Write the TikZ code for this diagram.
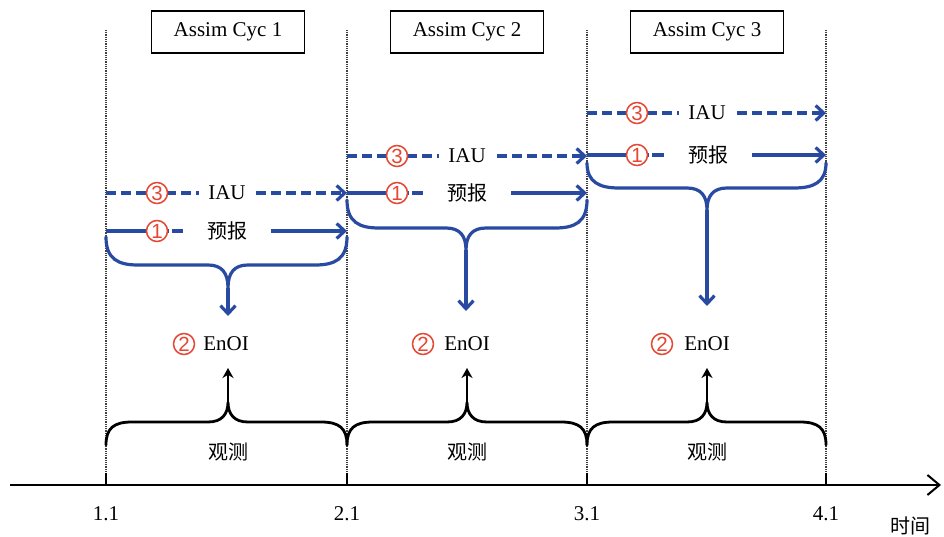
\documentclass[tikz,border=0pt]{standalone}
\usepackage{fontspec}
\setmainfont{Liberation Serif}
\newfontfamily\cjk{Noto Sans CJK SC}
\newfontfamily\digitfont{Liberation Sans}
\usetikzlibrary{arrows.meta}
\definecolor{lblue}{RGB}{40,74,160}
\definecolor{lred}{RGB}{226,72,52}
\newcommand\bracedown[6]{% x1,x2,cx,y0,yh,yt
  \draw[blueline,line cap=round] (#1,#4) .. controls (#1,#5-6) and (#1+12,#5) .. (#1+32,#5) -- (#3-20,#5)
    .. controls (#3-6,#5) and (#3,#5+8) .. (#3,#6)
    .. controls (#3,#5+8) and (#3+6,#5) .. (#3+20,#5) -- (#2-32,#5)
    .. controls (#2-12,#5) and (#2,#5-6) .. (#2,#4);}
\newcommand\braceup[6]{% x1,x2,cx,y0,yh,yt
  \draw[obsline,line cap=round] (#1,#4) .. controls (#1,#5+6) and (#1+8,#5) .. (#1+26,#5) -- (#3-20,#5)
    .. controls (#3-6,#5) and (#3,#5-8) .. (#3,#6)
    .. controls (#3,#5-8) and (#3+6,#5) .. (#3+20,#5) -- (#2-26,#5)
    .. controls (#2-8,#5) and (#2,#5+6) .. (#2,#4);}
\begin{document}
\begin{tikzpicture}[x=1pt,y=-1pt,
  every node/.style={font=\fontsize{21}{24}\selectfont},
  cjktext/.style={font=\cjk\fontsize{20}{24}\selectfont},
  cyclebox/.style={draw,line width=1.8pt,minimum width=153pt,minimum height=42pt,inner sep=0pt,fill=white},
  vline/.style={line width=1.5pt,black!75,dash pattern=on 1pt off 0.8pt},
  blueline/.style={lblue,line width=3.2pt},
  bluearrow/.style={blueline,-{Straight Barb[length=8pt,width=15pt]}},
  iauarrow/.style={bluearrow,dash pattern=on 10pt off 5pt},
  obsline/.style={black,line width=2.8pt},
  obsarrow/.style={obsline,-{Stealth[length=10pt,width=11pt]}},
  numcirc/.style={circle,draw=lred,line width=1.5pt,text=lred,inner sep=0pt,minimum size=21pt,fill=white,font=\digitfont\fontsize{20.5}{20.5}\selectfont},
  gaptext/.style={fill=white,inner ysep=2pt},
]
\useasboundingbox (0,0) rectangle (944,537);
% vertical time lines and ticks
\foreach \x/\n in {106/1,347/2,587/3,826/4}{
  \coordinate (vt\n) at (\x,30);
  \coordinate (vb\n) at (\x,473);
  \coordinate (va\n) at (\x,485);
  \draw[vline] (vt\n) -- (vb\n);
  \draw[line width=2.2pt] (vb\n) -- (va\n);
  \node (lab\n) at (\x,514) {\n.1};
}
% time axis
\coordinate (ax0) at (10,485);
\coordinate (ax1) at (941,485);
\draw[line width=2pt,-{Straight Barb[length=12pt,width=20pt]}] (ax0) -- (ax1);
\node[cjktext] (time) at (910,526) {时间};
% cycle boxes
\node[cyclebox] (box1) at (228,32) {Assim Cyc 1};
\node[cyclebox] (box2) at (467,32) {Assim Cyc 2};
\node[cyclebox] (box3) at (707,32) {Assim Cyc 3};

% ---------- cycle 1 ----------
\coordinate (i1s) at (106,193); \coordinate (i1e) at (347,193);
\draw[iauarrow] (i1s) -- (i1e);
\node[numcirc] (c13) at (157,193) {3};
\node[gaptext,inner xsep=9pt] (iau1) at (227,193) {IAU};
\coordinate (f1s) at (106,231); \coordinate (f1e) at (347,231);
\draw[bluearrow] (f1s) -- (f1e);
\node[gaptext,cjktext,inner xsep=24pt] (fc1) at (227,231) {预报};
\node[numcirc] (c11) at (157,231) {1};
\fill[white] (169,227) rectangle (172,235);
\bracedown{106}{347}{228}{237}{265}{288}
\coordinate (t1) at (228,288); \coordinate (a1) at (228,316);
\draw[bluearrow] (t1) -- (a1);
\node[numcirc] (c21) at (184,344) {2};
\node (enoi1) at (226,344) {EnOI};
\braceup{106}{347}{228}{445}{422}{402}
\coordinate (o1) at (228,402); \coordinate (oa1) at (228,368);
\draw[obsarrow] (o1) -- (oa1);
\node[cjktext] (obs1) at (228,452) {观测};

% ---------- cycle 2 ----------
\coordinate (i2s) at (347,156); \coordinate (i2e) at (587,156);
\draw[iauarrow] (i2s) -- (i2e);
\node[numcirc] (c23) at (397,156) {3};
\node[gaptext,inner xsep=9pt] (iau2) at (467,156) {IAU};
\coordinate (f2s) at (347,193); \coordinate (f2e) at (587,193);
\draw[bluearrow] (f2s) -- (f2e);
\node[gaptext,cjktext,inner xsep=24pt] (fc2) at (467,193) {预报};
\node[numcirc] (c22) at (397,193) {1};
\fill[white] (409,189) rectangle (412,197);
\bracedown{347}{587}{466}{200}{228}{250}
\coordinate (t2) at (466,250); \coordinate (a2) at (466,311);
\draw[bluearrow] (t2) -- (a2);
\node[numcirc] (c2e) at (423,344) {2};
\node (enoi2) at (467,344) {EnOI};
\braceup{347}{587}{467}{445}{422}{402}
\coordinate (o2) at (467,402); \coordinate (oa2) at (467,368);
\draw[obsarrow] (o2) -- (oa2);
\node[cjktext] (obs2) at (467,452) {观测};

% ---------- cycle 3 ----------
\coordinate (i3s) at (587,113); \coordinate (i3e) at (826,113);
\draw[iauarrow] (i3s) -- (i3e);
\node[numcirc] (c33) at (637,113) {3};
\node[gaptext,inner xsep=9pt] (iau3) at (707,113) {IAU};
\coordinate (f3s) at (587,155); \coordinate (f3e) at (826,155);
\draw[bluearrow] (f3s) -- (f3e);
\node[gaptext,cjktext,inner xsep=24pt] (fc3) at (708,155) {预报};
\node[numcirc] (c31) at (637,155) {1};
\fill[white] (649,151) rectangle (652,159);
\bracedown{587}{826}{707}{163}{188}{210}
\coordinate (t3) at (707,210); \coordinate (a3) at (707,306);
\draw[bluearrow] (t3) -- (a3);
\node[numcirc] (c3e) at (662,344) {2};
\node (enoi3) at (707,344) {EnOI};
\braceup{587}{826}{707}{445}{422}{402}
\coordinate (o3) at (707,402); \coordinate (oa3) at (707,368);
\draw[obsarrow] (o3) -- (oa3);
\node[cjktext] (obs3) at (707,452) {观测};
\end{tikzpicture}
\end{document}
